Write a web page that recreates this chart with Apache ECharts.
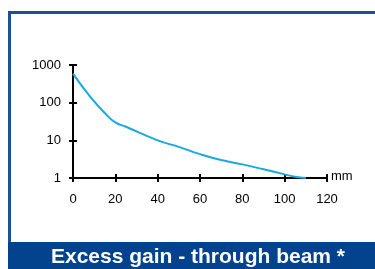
<!DOCTYPE html>
<html><head><meta charset="utf-8">
<script src="https://cdn.jsdelivr.net/npm/echarts@6/dist/echarts.min.js"></script>
<style>html,body{margin:0;padding:0;background:#fff;overflow:hidden}#c{width:375px;height:269px}</style>
</head><body><div id="c"></div>
<script>
var distances = [0, 8, 15, 20, 25, 40, 50, 60, 70, 80, 90, 100, 105, 110];
var gains = [590, 147, 53, 30, 23, 10, 6.7, 4.3, 3.0, 2.3, 1.7, 1.25, 1.08, 1.0];
var xTicks = [0, 20, 40, 60, 80, 100, 120];
var yTicks = [1, 10, 100, 1000];
var titleText = 'Excess gain - through beam *';
var xUnit = 'mm';

var chart = echarts.init(document.getElementById('c'), null, {renderer: 'canvas'});
var font = 'Liberation Sans, Arial, sans-serif';
var axisCommon = {
  axisLine: {show: true, onZero: false, lineStyle: {color: '#000', width: 2}},
  splitLine: {show: false}
};
chart.setOption({
  animation: false,
  graphic: [
    {type: 'line', shape: {x1: 9.5, y1: 11, x2: 9.5, y2: 250}, style: {stroke: '#1b4f9c', lineWidth: 3}, z: 0},
    {type: 'line', shape: {x1: 8, y1: 12.5, x2: 375, y2: 12.5}, style: {stroke: '#1b4f9c', lineWidth: 3}, z: 0},
    {type: 'rect', shape: {x: 8, y: 242, width: 367, height: 27}, style: {fill: '#03428c'}, z: 1},
    {type: 'text', x: 198, y: 257, style: {text: titleText, fill: '#fff', font: 'bold 21px ' + font, textAlign: 'center', textVerticalAlign: 'middle'}, z: 2}
  ],
  grid: {left: 73, right: 48, top: 65, bottom: 91},
  xAxis: [
    Object.assign({}, axisCommon, {
      type: 'value', min: 0, max: 120, interval: 20,
      name: xUnit, nameLocation: 'end', nameGap: 4,
      nameTextStyle: {fontFamily: font, fontSize: 13, color: '#000', verticalAlign: 'bottom', padding: [0, 0, -5, 0]},
      axisTick: {show: true, inside: false, length: 4, lineStyle: {color: '#000', width: 2}},
      axisLabel: {fontFamily: font, fontSize: 13, color: '#000', margin: 15,
        formatter: function (v) { return xTicks.indexOf(v) >= 0 ? String(v) : ''; }}
    }),
    Object.assign({}, axisCommon, {
      type: 'value', min: 0, max: 120, interval: 20, position: 'bottom',
      axisTick: {show: true, inside: true, length: 4, lineStyle: {color: '#000', width: 2}},
      axisLabel: {show: false}
    })
  ],
  yAxis: [
    Object.assign({}, axisCommon, {
      type: 'log', logBase: 10, min: yTicks[0], max: yTicks[yTicks.length - 1],
      axisTick: {show: true, inside: false, length: 4, lineStyle: {color: '#000', width: 2}},
      axisLabel: {fontFamily: font, fontSize: 13, color: '#000', margin: 12,
        formatter: function (v) { return String(Math.round(v)); }}
    }),
    Object.assign({}, axisCommon, {
      type: 'log', logBase: 10, min: yTicks[0], max: yTicks[yTicks.length - 1], position: 'left',
      axisTick: {show: true, inside: true, length: 4, lineStyle: {color: '#000', width: 2}},
      axisLabel: {show: false}
    })
  ],
  series: [{
    type: 'line', smooth: true, symbol: 'none',
    lineStyle: {color: '#19a9e1', width: 2},
    data: distances.map(function (d, i) { return [d, gains[i]]; }),
    z: 1
  }]
});
</script></body></html>
